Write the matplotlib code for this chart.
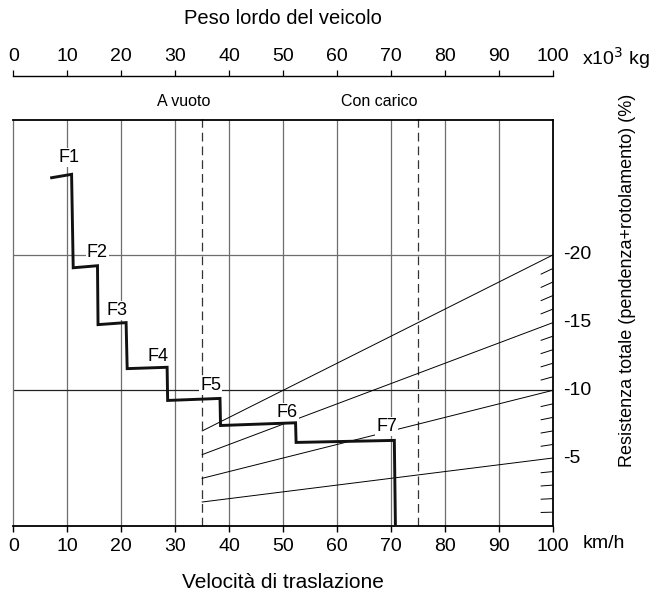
import numpy as np
import matplotlib
matplotlib.use('Agg')
import matplotlib.pyplot as plt

plt.rcParams['font.family'] = ['Liberation Sans', 'DejaVu Sans']

# step curve (speed km/h, resistance %)
step_x = [7.1, 10.8, 11.1, 15.6, 15.7, 20.9, 21.1, 28.5, 28.6, 38.3, 38.4, 52.3, 52.4, 70.6, 70.8]
step_y = [25.7, 25.95, 19.05, 19.2, 14.85, 15.0, 11.6, 11.7, 9.25, 9.4, 7.4, 7.6, 6.15, 6.3, 0.0]

gear_labels = ['F1', 'F2', 'F3', 'F4', 'F5', 'F6', 'F7']
gear_x = [10.3, 15.6, 19.2, 26.9, 36.6, 50.8, 69.2]
gear_y = [27.2, 20.2, 15.9, 12.5, 10.35, 8.35, 7.3]

# weight lines: resistance at 35 and 100 (x10^3 kg)
wline_start = [1.75, 3.5, 5.25, 7.0]
wline_end = [5, 10, 15, 20]
w_empty, w_loaded = 35, 75

xticks = list(range(0, 101, 10))
res_ticks = [5, 10, 15, 20]
res_minor = [v for v in range(1, 20) if v % 5]

fig = plt.figure(figsize=(6.54, 5.98), dpi=100)
W, H = 654, 598
x0, x1 = 13.3, 553.0
ytop, ybot = 119.5, 525.7
ax = fig.add_axes([x0 / W, 1 - ybot / H, (x1 - x0) / W, (ybot - ytop) / H])
ax.set_xlim(0, 100)
ax.set_ylim(0, 30)

grey = '#6e6e6e'
for v in range(10, 100, 10):
    ax.axvline(v, color=grey, lw=0.9, zorder=1)
ax.axhline(20, color=grey, lw=0.9, zorder=1)
ax.axhline(10, color='#222222', lw=0.9, zorder=1)

for xv in (w_empty, w_loaded):
    ax.plot([xv, xv], [0, 30.35], color='#333333', lw=0.9, ls=(0, (7, 4)), clip_on=False, zorder=2)

for s, e in zip(wline_start, wline_end):
    ax.plot([w_empty, 100], [s, e], color='black', lw=0.7, zorder=2)

for v in res_minor:
    ax.plot([97.8, 100], [v * 0.978, v], color='black', lw=0.7, zorder=2)

ax.plot(step_x, step_y, color='#111111', lw=2.1, solid_joinstyle='miter', zorder=4)

for t, gx, gy in zip(gear_labels, gear_x, gear_y):
    ax.text(gx, gy, t, fontsize=13, ha='center', va='center', zorder=3,
            bbox=dict(facecolor='white', edgecolor='none', pad=0.8))

for side in ('top', 'right', 'bottom'):
    ax.spines[side].set_color('black')
    ax.spines[side].set_linewidth(1.3)
ax.spines['left'].set_color(grey)
ax.spines['left'].set_linewidth(0.9)

ax.set_xticks(xticks)
ax.set_xticklabels([str(v) for v in xticks])
ax.tick_params(axis='x', direction='out', length=4, width=1.0, pad=5, labelsize=14)
ax.set_yticks([])
ax.tick_params(axis='y', left=False, labelleft=False)

for v in res_ticks:
    ax.text(101.8, v, '-%d' % v, fontsize=14, ha='left', va='center')

fig.text(583 / W, 1 - 543.5 / H, 'km/h', fontsize=14, ha='left', va='center')
ax.text(31.5, 31.35, 'A vuoto', fontsize=11.5, ha='center', va='center')
ax.text(67.8, 31.35, 'Con carico', fontsize=11.5, ha='center', va='center')

fig.text(283 / W, 1 - 583 / H, 'Velocità di traslazione', fontsize=15, ha='center', va='center')
fig.text(627 / W, 1 - 280 / H, 'Resistenza totale (pendenza+rotolamento) (%)', fontsize=13,
         ha='center', va='center', rotation=90)

# top scale: gross vehicle weight
axt = fig.add_axes([x0 / W, 1 - 76 / H, (x1 - x0) / W, 0.0001])
axt.set_xlim(0, 100)
for side in ('left', 'right', 'bottom'):
    axt.spines[side].set_visible(False)
axt.spines['top'].set_linewidth(1.0)
axt.xaxis.tick_top()
axt.set_xticks(xticks)
axt.set_xticklabels([str(v) for v in xticks])
axt.tick_params(axis='x', direction='out', length=4, width=0.9, pad=4, labelsize=14)
axt.set_yticks([])
axt.patch.set_visible(False)
fig.text(582 / W, 1 - 58 / H, r'x10$^3$ kg', fontsize=14, ha='left', va='center')
fig.text(283 / W, 1 - 18 / H, 'Peso lordo del veicolo', fontsize=14.5, ha='center', va='center')

fig.savefig('out.png', dpi=100, facecolor='white')
